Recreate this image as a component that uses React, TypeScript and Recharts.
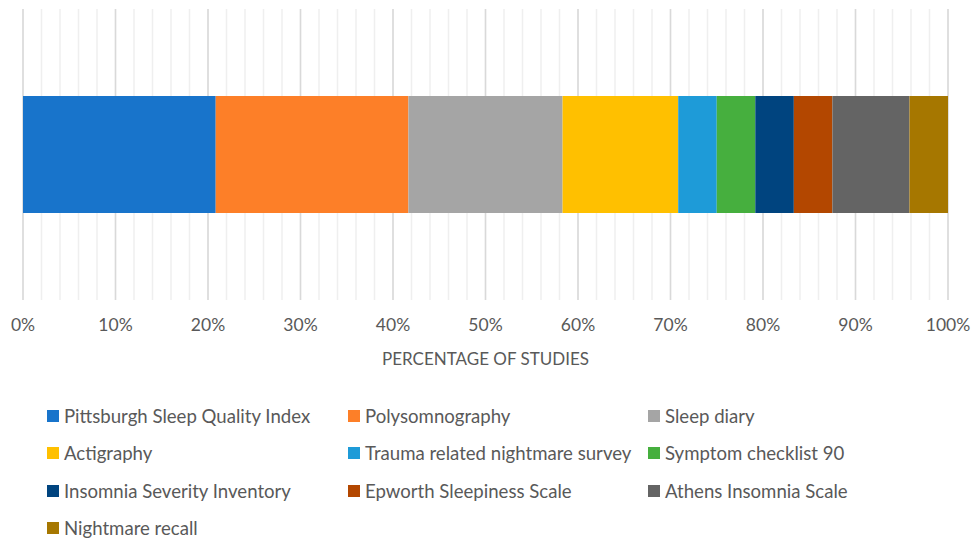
import React from 'react';
import { BarChart, Bar, XAxis, YAxis, CartesianGrid } from 'recharts';

const seriesNames = [
  'Pittsburgh Sleep Quality Index',
  'Polysomnography',
  'Sleep diary',
  'Actigraphy',
  'Trauma related nightmare survey',
  'Symptom checklist 90',
  'Insomnia Severity Inventory',
  'Epworth Sleepiness Scale',
  'Athens Insomnia Scale',
  'Nightmare recall',
];
const studyCounts = [5, 5, 4, 3, 1, 1, 1, 1, 2, 1];
const seriesColors = [
  '#1874CB', '#FD7F28', '#A5A5A5', '#FFC000', '#1E9BD8',
  '#46AF3E', '#00447F', '#B34700', '#646464', '#A67700',
];
const majorTicks = [0, 0.1, 0.2, 0.3, 0.4, 0.5, 0.6, 0.7, 0.8, 0.9, 1];
const minorTicks = [
  0, 0.02, 0.04, 0.06, 0.08, 0.1, 0.12, 0.14, 0.16, 0.18, 0.2, 0.22, 0.24, 0.26, 0.28,
  0.3, 0.32, 0.34, 0.36, 0.38, 0.4, 0.42, 0.44, 0.46, 0.48, 0.5, 0.52, 0.54, 0.56, 0.58,
  0.6, 0.62, 0.64, 0.66, 0.68, 0.7, 0.72, 0.74, 0.76, 0.78, 0.8, 0.82, 0.84, 0.86, 0.88,
  0.9, 0.92, 0.94, 0.96, 0.98, 1,
];
const axisTitle = 'PERCENTAGE OF STUDIES';

const total = studyCounts.reduce((a, b) => a + b, 0);
const row: Record<string, number | string> = { name: 'studies' };
seriesNames.forEach((n, i) => {
  row[`s${i}`] = studyCounts[i] / total;
});
const data = [row];

const FONT = 'Lato, "Noto Sans", sans-serif';
const legendCols = [47, 348, 648];
const legendRowY = [416, 453, 490.5, 528];

const scaleGen = (ticks: number[]) => (props: any) => {
  const ax = props && props.xAxis;
  if (ax && typeof ax.scale === 'function') {
    return ticks.map((t) => ax.scale(t));
  }
  const { offset } = props;
  return ticks.map((t) => offset.left + t * offset.width);
};

export default function App() {
  return (
    <div style={{ position: 'absolute', left: 0, top: 0, width: 972, height: 539, background: '#fff', fontFamily: FONT }}>
      <BarChart
        width={972}
        height={380}
        data={data}
        layout="vertical"
        margin={{ top: 9, right: 24, left: 23, bottom: 0 }}
        barCategoryGap="30%"
      >
        <CartesianGrid
          horizontal={false}
          stroke="#EFEFEF"
          strokeWidth={1.5}
          verticalCoordinatesGenerator={scaleGen(minorTicks)}
        />
        <CartesianGrid
          horizontal={false}
          stroke="#D9D9D9"
          strokeWidth={1.5}
          verticalCoordinatesGenerator={scaleGen(majorTicks)}
        />
        <XAxis
          type="number"
          domain={[0, 1]}
          ticks={majorTicks}
          tickFormatter={(v: number) => `${Math.round(v * 100)}%`}
          axisLine={false}
          tickLine={false}
          tickSize={0}
          tickMargin={19}
          height={80}
          tick={{ fill: '#595959', fontSize: 17.5, fontFamily: FONT }}
          label={{
            value: axisTitle,
            position: 'insideBottom',
            offset: 15,
            fill: '#595959',
            fontSize: 17,
            fontFamily: FONT,
          }}
        />
        <YAxis type="category" dataKey="name" hide />
        {seriesNames.map((n, i) => (
          <Bar
            key={n}
            dataKey={`s${i}`}
            name={n}
            stackId="a"
            fill={seriesColors[i]}
            barSize={117}
            isAnimationActive={false}
          />
        ))}
      </BarChart>
      {seriesNames.map((n, i) => {
        const col = i % 3;
        const r = Math.floor(i / 3);
        return (
          <div
            key={n}
            style={{
              position: 'absolute',
              left: legendCols[col],
              top: legendRowY[r] - 12,
              height: 24,
              display: 'flex',
              alignItems: 'center',
              whiteSpace: 'nowrap',
            }}
          >
            <div style={{ width: 12, height: 12, background: seriesColors[i], marginRight: 5 }} />
            <span style={{ fontSize: 18.6, color: '#595959', fontFamily: FONT }}>{n}</span>
          </div>
        );
      })}
    </div>
  );
}
